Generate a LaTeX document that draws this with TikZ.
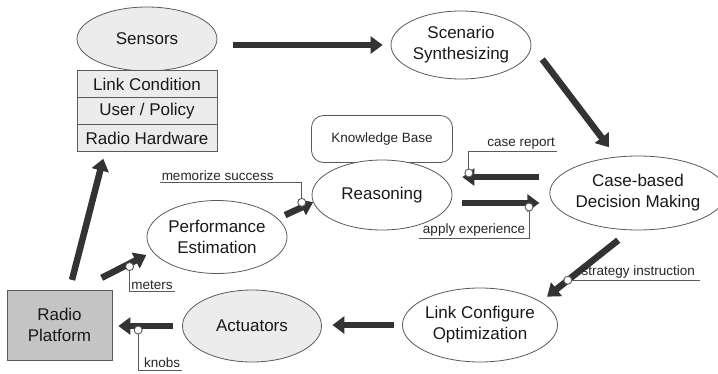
\documentclass[tikz,border=0pt]{standalone}
\usepackage{fontspec}
\setmainfont{Liberation Sans}
\usepackage{tikz}
\usetikzlibrary{arrows.meta,calc,positioning,shapes.geometric}
\definecolor{flowGray}{HTML}{333333}
\definecolor{edgeGray}{HTML}{5A5A5A}
\definecolor{lightFill}{HTML}{ECECEC}
\definecolor{platFill}{HTML}{C4C4C4}
\newcommand{\stagefont}{\fontsize{17}{21}\selectfont}
\newcommand{\notefont}{\fontsize{13.5}{16}\selectfont}

\begin{document}
\begin{tikzpicture}[
    x=1pt,y=-1pt,
    stage/.style={ellipse,draw=edgeGray,line width=0.8pt,fill=white,align=center,
      inner sep=0pt,minimum width=140pt,minimum height=70pt,font=\stagefont,text=black!90},
    row/.style={rectangle,draw=edgeGray,line width=0.8pt,fill=lightFill,
      inner sep=0pt,minimum width=140pt,minimum height=27pt,font=\stagefont,text=black!90},
    flow/.style={draw=flowGray,line width=6.5pt,-{Triangle[width=17pt,length=12pt]}},
    tagline/.style={draw=edgeGray,line width=0.9pt},
    tagdot/.style={circle,draw=edgeGray,line width=0.9pt,fill=white,inner sep=0pt,minimum size=8pt},
    taglabel/.style={font=\notefont,text=black!85,inner sep=1.5pt}]
    \useasboundingbox (0,0) rectangle (718,373);
    \node[stage,fill=lightFill,minimum height=64pt] (sensors) at (147,39) {Sensors};
    \node[row] (linkcond) at (147,84) {Link Condition};
    \node[row] (userpol) at (147,111) {User / Policy};
    \node[row] (radiohw) at (147,138) {Radio Hardware};
    \node[stage,minimum height=68pt] (scenario) at (461,45) {Scenario\\Synthesizing};
    \node[draw=edgeGray,line width=0.8pt,rounded corners=12pt,minimum width=141pt,
      minimum height=47pt,font=\notefont,text=black!85] (knowledge) at (382,139) {Knowledge Base};
    \node[stage] (reasoning) at (382,195) {Reasoning};
    \node[stage,minimum width=158pt,minimum height=74pt] (casebased) at (638,193) {Case-based\\Decision Making};
    \node[stage,minimum height=73pt] (perf) at (217,237) {Performance\\Estimation};
    \node[draw=edgeGray,line width=0.8pt,fill=platFill,minimum width=105pt,minimum height=70pt,
      align=center,font=\stagefont,text=black!90] (radio) at (59.5,325) {Radio\\Platform};
    \node[stage,fill=lightFill,minimum width=139pt,minimum height=72pt] (actuators) at (252,326) {Actuators};
    \node[stage,minimum height=74pt] (linkopt) at (480,325) {Link Configure\\Optimization};

    \coordinate (reportin) at ([yshift=16pt]casebased.west);
    \coordinate (applyout) at ([yshift=-8pt]reasoning.east);
    \coordinate (metersout) at ([xshift=19pt]radio.north);

    \draw[flow,shorten <=16pt,shorten >=8pt] (sensors.east |- scenario.west) -- (scenario.west);
    \draw[flow,shorten <=18pt,shorten >=12pt] (scenario.east) -- (casebased.121);
    \draw[flow,shorten <=10pt,shorten >=10pt] (reportin) -- coordinate[pos=.83,yshift=4pt] (reporttag) (reportin -| reasoning.east);
    \draw[flow,shorten <=10pt,shorten >=10pt] (applyout) -- coordinate[pos=.79,yshift=-4pt] (applytag) (applyout -| casebased.west);
    \draw[flow,shorten <=16pt,shorten >=8pt] (casebased.259) -- coordinate[pos=.70] (strategytag) (linkopt.21);
    \draw[flow,shorten <=8pt,shorten >=10.5pt] (linkopt.west) -- (linkopt.west -| actuators.east);
    \draw[flow,shorten <=9.5pt,shorten >=6pt] (actuators.west) -- coordinate[pos=.63,yshift=-4pt] (knobstag) (actuators.west -| radio.east);
    \draw[flow,shorten <=10pt,shorten >=7pt] ([xshift=10pt]radio.north) -- ([xshift=-42pt]radiohw.south);
    \draw[flow,shorten <=26pt,shorten >=7pt] (metersout) -- coordinate[pos=.69,yshift=-3pt] (meterstag) (perf.193);
    \draw[flow,shorten <=8pt] (perf.17) -- coordinate[pos=.68,yshift=5pt] (memotag) (reasoning.186);

    \draw[tagline] (reporttag) |- ++(88,-22) node[taglabel,above left] (reportlabel) {case report};
    \draw[tagline] (applytag) |- ++(-110,31) node[taglabel,above right,xshift=2pt] (applylabel) {apply experience};
    \draw[tagline] (strategytag) -- ++(132,0) node[taglabel,above left,xshift=-3pt] (strategylabel) {strategy instruction};
    \draw[tagline] (meterstag) |- ++(45,25) node[taglabel,above left] (meterslabel) {meters};
    \draw[tagline] (knobstag) |- ++(44,40) node[taglabel,above left] (knobslabel) {knobs};
    \draw[tagline] (memotag) |- ++(-142,-20) node[taglabel,above right] (memolabel) {memorize success};

    \node[tagdot] (reportdot) at (reporttag) {};
    \node[tagdot] (applydot) at (applytag) {};
    \node[tagdot] (strategydot) at (strategytag) {};
    \node[tagdot] (metersdot) at (meterstag) {};
    \node[tagdot] (knobsdot) at (knobstag) {};
    \node[tagdot] (memodot) at (memotag) {};
  \end{tikzpicture}
\end{document}
